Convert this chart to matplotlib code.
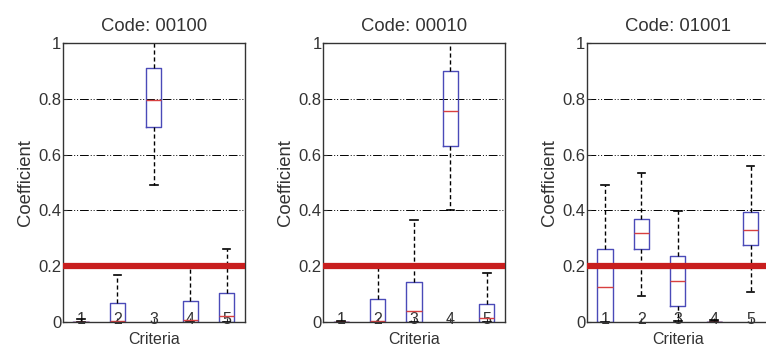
import matplotlib.pyplot as plt

plt.rcParams['font.family'] = ['Liberation Sans', 'DejaVu Sans']

criteria = [1, 2, 3, 4, 5]
titles = ["Code: 00100", "Code: 00010", "Code: 01001"]

# box stats per panel (criteria 1..5)
q1_a = [0.0, 0.0, 0.70, 0.0, 0.0]
med_a = [0.0, 0.005, 0.795, 0.008, 0.02]
q3_a = [0.0, 0.068, 0.91, 0.075, 0.104]
lo_a = [0.0, 0.0, 0.49, 0.0, 0.0]
hi_a = [0.012, 0.17, 1.0, 0.194, 0.263]

q1_b = [0.0, 0.0, 0.0, 0.63, 0.0]
med_b = [0.0, 0.005, 0.04, 0.756, 0.016]
q3_b = [0.0, 0.082, 0.144, 0.898, 0.066]
lo_b = [0.0, 0.0, 0.0, 0.40, 0.0]
hi_b = [0.005, 0.208, 0.366, 1.0, 0.174]

q1_c = [0.0, 0.262, 0.058, 0.0, 0.276]
med_c = [0.126, 0.318, 0.148, 0.0, 0.33]
q3_c = [0.262, 0.37, 0.238, 0.0, 0.394]
lo_c = [0.0, 0.094, 0.005, 0.0, 0.108]
hi_c = [0.49, 0.534, 0.397, 0.008, 0.558]

threshold = 0.2
yticks = [0, 0.2, 0.4, 0.6, 0.8, 1]
ytick_labels = ["0", "0.2", "0.4", "0.6", "0.8", "1"]

panels = [(q1_a, med_a, q3_a, lo_a, hi_a),
          (q1_b, med_b, q3_b, lo_b, hi_b),
          (q1_c, med_c, q3_c, lo_c, hi_c)]
lefts = [0.082, 0.4217, 0.766]

fig = plt.figure(figsize=(7.66, 3.47), dpi=100)

for i, (q1, med, q3, lo, hi) in enumerate(panels):
    ax = fig.add_axes([lefts[i], 0.072, 0.2376, 0.804])
    stats = [dict(q1=q1[k], med=med[k], q3=q3[k], whislo=lo[k], whishi=hi[k], fliers=[])
             for k in range(len(criteria))]
    ax.bxp(stats, positions=criteria, widths=0.42, capwidths=0.21,
           boxprops=dict(color='#4a4ab8', lw=1.0),
           medianprops=dict(color='#d84040', lw=1.0),
           whiskerprops=dict(color='black', lw=1.0, linestyle=(0, (3, 2))),
           capprops=dict(color='black', lw=1.2))
    for g in [0.4, 0.6, 0.8]:
        ax.axhline(g, color='black', lw=0.7, linestyle=(0, (9, 2, 1, 2, 1, 2)), zorder=0)
    ax.axhline(threshold, color='#c81e1e', lw=4.5, zorder=5)
    ax.set_xlim(0.5, 5.5)
    ax.set_ylim(0, 1)
    ax.set_xticks(criteria)
    ax.set_xticklabels([str(c) for c in criteria])
    ax.set_yticks(yticks)
    ax.set_yticklabels(ytick_labels)
    ax.tick_params(axis='both', direction='in', length=3, colors='#333333')
    ax.tick_params(axis='x', pad=-7, labelsize=11.5)
    ax.tick_params(axis='y', pad=1, labelsize=12)
    for s in ax.spines.values():
        s.set_linewidth(1.0)
        s.set_color('#333333')
    ax.set_title(titles[i], fontsize=13.3, pad=9, color='#333333')
    ax.set_ylabel("Coefficient", fontsize=13.3, color='#333333', labelpad=3)
    ax.set_xlabel("Criteria", fontsize=11.5, va='bottom', color='#333333')
    ax.xaxis.set_label_coords(0.5, -0.088)

fig.savefig("out.png", dpi=100)
